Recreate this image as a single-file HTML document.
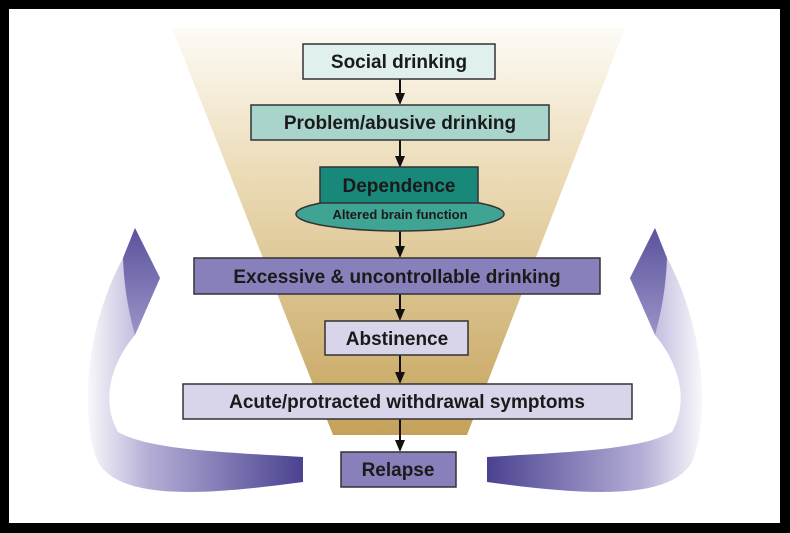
<!DOCTYPE html>
<html><head><style>
html,body{margin:0;padding:0;background:#000;}
svg{display:block;}
text{font-family:"Liberation Sans",sans-serif;font-weight:bold;fill:#1a1a1a;text-anchor:middle;}
</style></head><body>
<svg width="790" height="533" viewBox="0 0 790 533" xmlns="http://www.w3.org/2000/svg">
<defs>
<linearGradient id="fun" x1="0" y1="28" x2="0" y2="435" gradientUnits="userSpaceOnUse">
<stop offset="0" stop-color="#fdfbf6"/>
<stop offset="0.35" stop-color="#ecdcb8"/>
<stop offset="1" stop-color="#c4a25a"/>
</linearGradient>
<linearGradient id="arr" x1="82" y1="0" x2="303" y2="0" gradientUnits="userSpaceOnUse">
<stop offset="0" stop-color="#ffffff"/>
<stop offset="0.3" stop-color="#b4aed6"/>
<stop offset="1" stop-color="#4a4290"/>
</linearGradient>
<linearGradient id="head" x1="0" y1="228" x2="0" y2="335" gradientUnits="userSpaceOnUse">
<stop offset="0" stop-color="#5a529c"/>
<stop offset="1" stop-color="#9a94c8"/>
</linearGradient>
</defs>
<rect x="9" y="9" width="771" height="514" fill="#fff"/>
<polygon points="172,28 625,28 467,435 333,435" fill="url(#fun)"/>
<g id="la">
<path d="M303,457 L303,482 C200,496 120,500 98,462 C80,420 84,330 123,258 L135,228 L160,278 L135,335 C112,362 100,400 118,432 C150,450 220,452 303,457 Z" fill="url(#arr)"/>
<path d="M123,258 L135,228 L160,278 L135,335 C128,310 124,285 123,258 Z" fill="url(#head)"/>
</g>
<use href="#la" transform="translate(790,0) scale(-1,1)"/>
<g stroke="#111" stroke-width="2">
<line x1="400" y1="79" x2="400" y2="96"/>
<line x1="400" y1="140" x2="400" y2="159"/>
<line x1="400" y1="231" x2="400" y2="249"/>
<line x1="400" y1="294" x2="400" y2="312"/>
<line x1="400" y1="355" x2="400" y2="375"/>
<line x1="400" y1="419" x2="400" y2="443"/>
</g>
<g fill="#111">
<polygon points="395,93 405,93 400,105"/>
<polygon points="395,156 405,156 400,168"/>
<polygon points="395,246 405,246 400,258"/>
<polygon points="395,309 405,309 400,321"/>
<polygon points="395,372 405,372 400,384"/>
<polygon points="395,440 405,440 400,452"/>
</g>
<g stroke="#333" stroke-width="1.5">
<rect x="303" y="44" width="192" height="35" fill="#e0f0ee"/>
<rect x="251" y="105" width="298" height="35" fill="#a8d4cc"/>
<ellipse cx="400" cy="214" rx="104" ry="17" fill="#40a494"/>
<rect x="320" y="167" width="158" height="36" fill="#17887a"/>
<rect x="194" y="258" width="406" height="36" fill="#8880ba"/>
<rect x="325" y="321" width="143" height="34" fill="#d8d4ea"/>
<rect x="183" y="384" width="449" height="35" fill="#d8d4ea"/>
<rect x="341" y="452" width="115" height="35" fill="#8880ba"/>
</g>
<text x="399" y="68" font-size="19">Social drinking</text>
<text x="400" y="129" font-size="19">Problem/abusive drinking</text>
<text x="399" y="192" font-size="19">Dependence</text>
<text x="400" y="219" font-size="13">Altered brain function</text>
<text x="397" y="283" font-size="19">Excessive &amp; uncontrollable drinking</text>
<text x="397" y="345" font-size="19">Abstinence</text>
<text x="407" y="408" font-size="19">Acute/protracted withdrawal symptoms</text>
<text x="398" y="476" font-size="19">Relapse</text>
</svg>
</body></html>
